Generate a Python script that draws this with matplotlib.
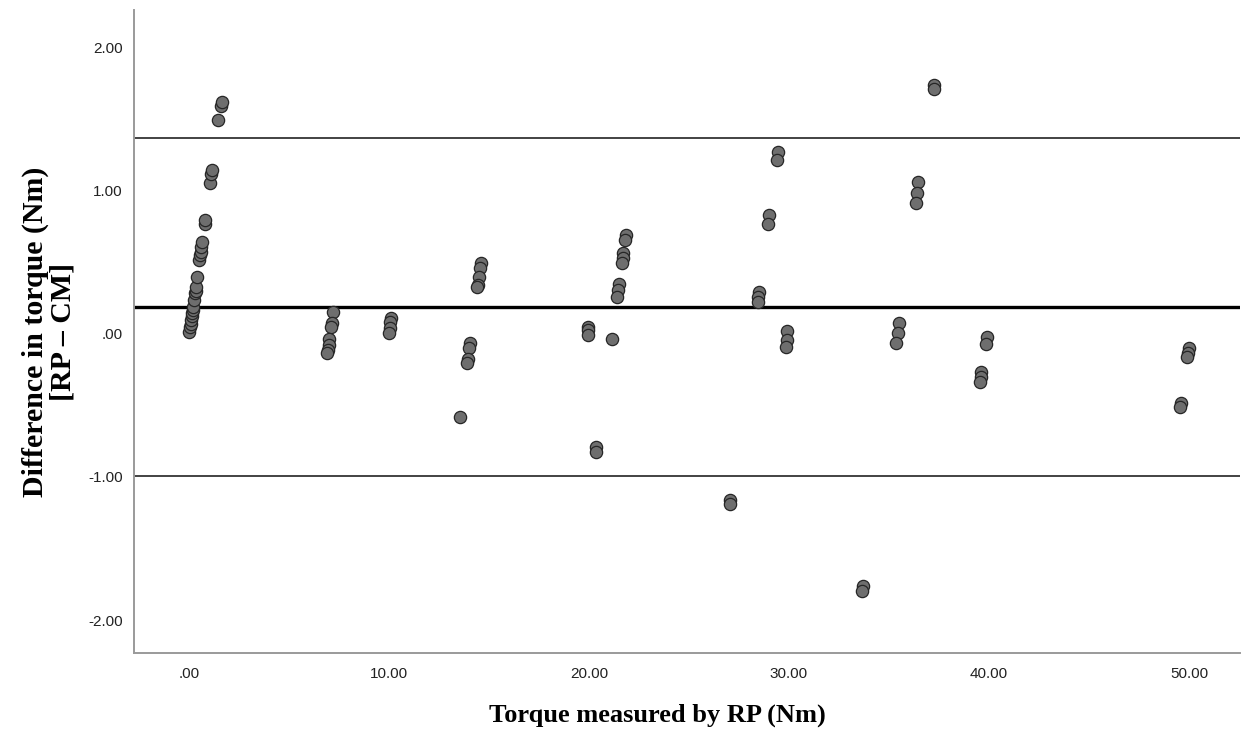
import matplotlib
matplotlib.use("Agg")
import matplotlib.pyplot as plt
from matplotlib.ticker import FixedLocator, FuncFormatter

# Torque measured by RP (Nm)
torque_rp = [
    0.015, 0.05, 0.08, 0.115, 0.14, 0.165, 0.19, 0.215, 0.25, 0.285, 0.335, 0.365, 0.415,
    0.515, 0.55, 0.58, 0.60, 0.635, 0.785, 0.815, 1.05, 1.115, 1.15, 1.465, 1.585, 1.635,
    7.22, 7.14, 7.10, 7.02, 6.99, 6.95, 6.92,
    10.10, 10.07, 10.03, 10.00,
    14.58, 14.55, 14.50, 14.45, 14.42, 14.05, 14.02, 13.93, 13.90, 13.55,
    19.97, 19.93, 19.93, 21.13, 20.35, 20.33,
    21.83, 21.82, 21.72, 21.68, 21.63, 21.50, 21.45, 21.40,
    27.05, 27.03,
    28.48, 28.45, 28.43, 29.02, 28.97, 29.43, 29.38, 29.92, 29.88, 29.83,
    33.68, 33.65,
    35.48, 35.43, 35.37, 36.47, 36.42, 36.33, 37.27, 37.25,
    39.90, 39.85, 39.62, 39.60, 39.57,
    50.02, 49.97, 49.92, 49.60, 49.57,
]
# Difference in torque (Nm) [RP - CM]
diff_torque = [
    0.013, 0.047, 0.07, 0.094, 0.12, 0.141, 0.165, 0.187, 0.234, 0.281, 0.30, 0.323, 0.397,
    0.513, 0.55, 0.571, 0.606, 0.641, 0.769, 0.797, 1.049, 1.118, 1.141, 1.495, 1.588, 1.618,
    0.152, 0.073, 0.049, -0.038, -0.080, -0.115, -0.136,
    0.106, 0.082, 0.036, 0.008,
    0.490, 0.455, 0.397, 0.339, 0.323, -0.064, -0.103, -0.180, -0.208, -0.581,
    0.047, 0.024, -0.010, -0.040, -0.794, -0.829,
    0.688, 0.653, 0.560, 0.525, 0.490, 0.346, 0.304, 0.257,
    -1.162, -1.190,
    0.292, 0.257, 0.222, 0.827, 0.769, 1.269, 1.211, 0.020, -0.045, -0.092,
    -1.762, -1.798,
    0.071, 0.006, -0.064, 1.060, 0.985, 0.910, 1.736, 1.705,
    -0.020, -0.075, -0.270, -0.305, -0.340,
    -0.103, -0.138, -0.166, -0.483, -0.515,
]

mean_diff = 0.185
upper_loa = 1.365
lower_loa = -0.995

x_ticks = [0, 10, 20, 30, 40, 50]
y_ticks = [-2, -1, 0, 1, 2]

def fmt(v, pos=None):
    s = "%.2f" % v
    if s.startswith("0."):
        s = s[1:]
    elif s.startswith("-0."):
        s = "-" + s[2:]
    return s

fig = plt.figure(figsize=(12.42, 7.34), dpi=100)
ax = fig.add_axes([134 / 1242, 1 - 653 / 734, (1240 - 134) / 1242, (653 - 10) / 734])

ax.axhline(upper_loa, color="#222222", lw=1.2, zorder=1)
ax.axhline(lower_loa, color="#222222", lw=1.2, zorder=1)
ax.axhline(mean_diff, color="#000000", lw=2.4, zorder=1)

ax.scatter(torque_rp, diff_torque, s=78, c="#6e6e6e", edgecolors="#262626",
           linewidths=0.9, zorder=3)

ax.set_xlim(-2.75, 52.55)
ax.set_ylim(-2.23, 2.26)
ax.xaxis.set_major_locator(FixedLocator(x_ticks))
ax.yaxis.set_major_locator(FixedLocator(y_ticks))
ax.xaxis.set_major_formatter(FuncFormatter(fmt))
ax.yaxis.set_major_formatter(FuncFormatter(fmt))

for sp in ["top", "right"]:
    ax.spines[sp].set_visible(False)
for sp in ["left", "bottom"]:
    ax.spines[sp].set_color("#9a9a9a")
    ax.spines[sp].set_linewidth(1.4)

ax.tick_params(axis="both", length=0, labelsize=11, labelcolor="#222222")
ax.tick_params(axis="x", pad=10)
ax.tick_params(axis="y", pad=8)
for lab in ax.get_xticklabels() + ax.get_yticklabels():
    lab.set_fontfamily("Liberation Sans")

ax.set_xlabel("Torque measured by RP (Nm)", fontfamily="Liberation Serif",
              fontweight="bold", fontsize=19, va="top")
ax.xaxis.set_label_coords((657 - 134) / 1106, (653 - 704) / 643)
ax.set_ylabel("Difference in torque (Nm)\n[RP \u2013 CM]", fontfamily="Liberation Serif",
              fontweight="bold", fontsize=21.5, linespacing=1.0)
ax.yaxis.set_label_coords((76 - 134) / 1106, 0.5)

fig.savefig("out.png", dpi=100, facecolor="white")
